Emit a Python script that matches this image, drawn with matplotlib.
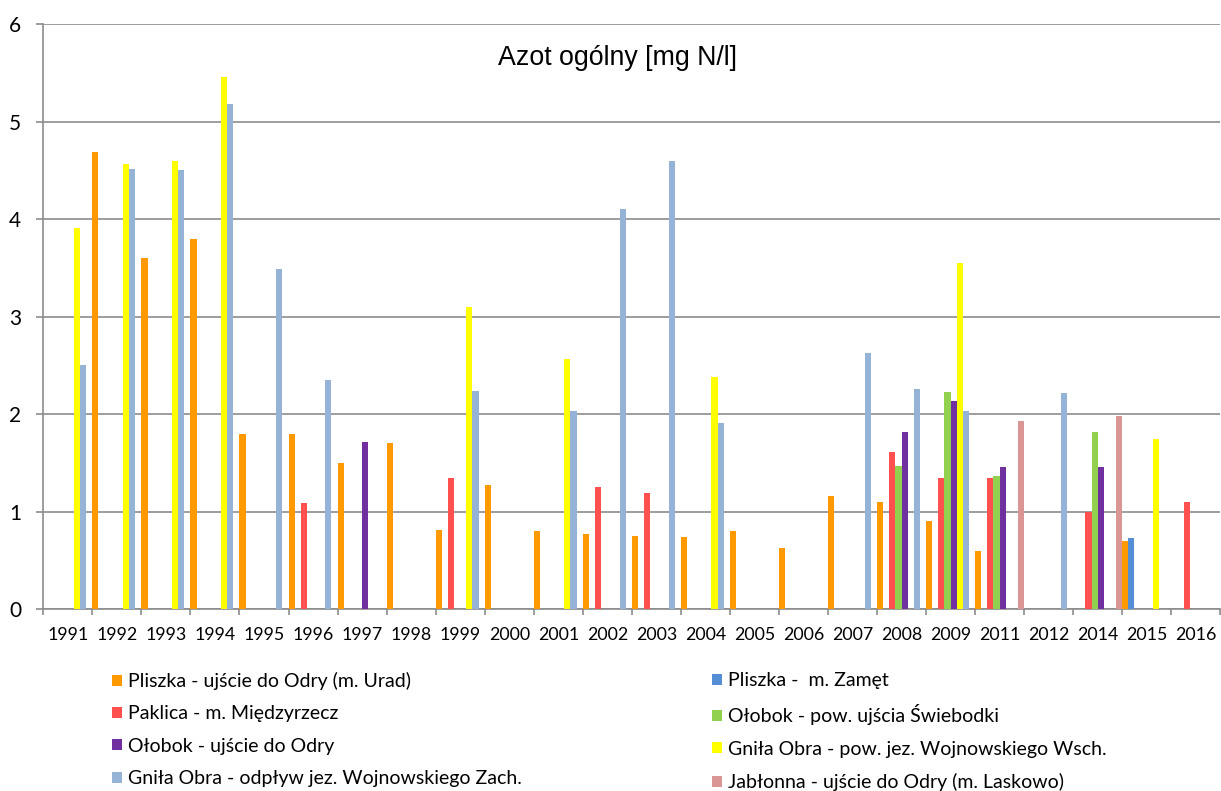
import matplotlib.pyplot as plt
import matplotlib.ticker as mticker
import numpy as np

nan = np.nan

years = ["1991", "1992", "1993", "1994", "1995", "1996", "1997", "1998",
         "1999", "2000", "2001", "2002", "2003", "2004", "2005", "2006",
         "2007", "2008", "2009", "2011", "2012", "2014", "2015", "2016"]

# stężenia azotu ogólnego [mg N/l], NaN = brak pomiaru
pliszka_urad = [nan, 4.69, 3.6, 3.8, 1.8, 1.8, 1.5, 1.7, 0.81, 1.27, 0.8, 0.77,
                0.75, 0.74, 0.8, 0.63, 1.16, 1.1, 0.9, 0.6, nan, nan, 0.7, nan]
pliszka_zamet = [nan] * 22 + [0.73, nan]
paklica = [nan, nan, nan, nan, nan, 1.09, nan, nan, 1.34, nan, nan, 1.25,
           1.19, nan, nan, nan, nan, 1.61, 1.34, 1.34, nan, 1.0, nan, 1.1]
olobok_swiebodka = [nan] * 17 + [1.47, 2.23, 1.36, nan, 1.82, nan, nan]
olobok_ujscie = [nan, nan, nan, nan, nan, nan, 1.71, nan, nan, nan, nan, nan,
                 nan, nan, nan, nan, nan, 1.82, 2.13, 1.46, nan, 1.46, nan, nan]
gnila_wsch = [3.91, 4.57, 4.6, 5.46, nan, nan, nan, nan, 3.1, nan, 2.57, nan,
              nan, 2.38, nan, nan, nan, nan, 3.55, nan, nan, nan, 1.74, nan]
gnila_zach = [2.5, 4.52, 4.51, 5.18, 3.49, 2.35, nan, nan, 2.24, nan, 2.03, 4.1,
              4.6, 1.91, nan, nan, 2.63, 2.26, 2.03, nan, 2.22, nan, nan, nan]
jablonna = [nan] * 19 + [1.93, nan, 1.98, nan, nan]

series = [
    ("Pliszka - ujście do Odry (m. Urad)", pliszka_urad, "#FF9900"),
    ("Pliszka -  m. Zamęt", pliszka_zamet, "#558ED5"),
    ("Paklica - m. Międzyrzecz", paklica, "#FF5050"),
    ("Ołobok - pow. ujścia Świebodki", olobok_swiebodka, "#92D050"),
    ("Ołobok - ujście do Odry", olobok_ujscie, "#7030A0"),
    ("Gniła Obra - pow. jez. Wojnowskiego Wsch.", gnila_wsch, "#FFFF00"),
    ("Gniła Obra - odpływ jez. Wojnowskiego Zach.", gnila_zach, "#95B3D7"),
    ("Jabłonna - ujście do Odry (m. Laskowo)", jablonna, "#D99694"),
]

grid_col = "#8C8C8C"
W, H = 1221, 791
fig = plt.figure(figsize=(W / 100, H / 100), dpi=100)
ax = fig.add_axes([43.3 / W, 1 - 609 / H, (1220.3 - 43.3) / W, (609 - 24.3) / H])

n = len(series)
w = 1.0 / n
x = np.arange(len(years))
handles = []
for k, (name, vals, col) in enumerate(series):
    b = ax.bar(x + (k + 0.5) * w, vals, width=w, color=col, label=name,
               linewidth=0, zorder=3)
    handles.append(b)

ax.set_xlim(0, len(years))
ax.set_ylim(0, 6)
ax.set_yticks(range(7))
ax.yaxis.grid(True, color=grid_col, linewidth=1.2, zorder=0)
for s in ("top", "right"):
    ax.spines[s].set_visible(False)
for s in ("left", "bottom"):
    ax.spines[s].set_color(grid_col)
    ax.spines[s].set_linewidth(1.2)

# kreski na granicach kategorii, podpisy lat pośrodku
ax.xaxis.set_major_locator(mticker.FixedLocator(np.arange(len(years) + 1)))
ax.xaxis.set_major_formatter(mticker.NullFormatter())
ax.xaxis.set_minor_locator(mticker.FixedLocator(x + 0.5))
ax.xaxis.set_minor_formatter(mticker.FixedFormatter(years))
ax.tick_params(axis="x", which="major", length=4.5, color=grid_col, width=1.2)
ax.tick_params(axis="x", which="minor", length=0, pad=13, labelsize=12.8)
ax.tick_params(axis="y", length=5, color=grid_col, width=1.2, pad=11,
               labelsize=15)
for lab in ax.get_xticklabels(minor=True) + ax.get_yticklabels():
    lab.set_fontfamily("Lato")

fig.text(618 / W, 1 - 65 / H, "Azot ogólny [mg N/l]", ha="center",
         va="baseline", fontsize=19.3, family="Liberation Sans")

# legenda w dwóch kolumnach, wypełniana wierszami
leg_kw = dict(frameon=False, loc="upper left", prop={"family": "Lato", "size": 14},
              handlelength=0.5, handleheight=0.5, handletextpad=0.3,
              labelspacing=0.79, borderaxespad=0, borderpad=0)
leg1 = fig.legend(handles[0::2], [s[0] for s in series[0::2]],
                  bbox_to_anchor=(112 / W, 1 - 672 / H), **leg_kw)
leg2 = fig.legend(handles[1::2], [s[0] for s in series[1::2]],
                  bbox_to_anchor=(712 / W, 1 - 672 / H), **leg_kw)

fig.savefig("out.png", dpi=100)
